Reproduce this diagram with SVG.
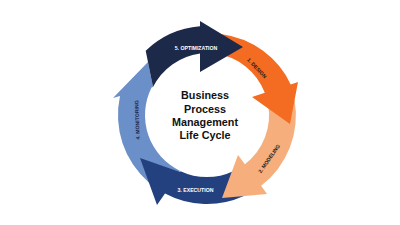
<svg xmlns="http://www.w3.org/2000/svg" width="400" height="225" viewBox="0 0 400 225">
<style>
.lbl{font-family:"Liberation Sans",Arial,sans-serif;font-weight:700;font-size:5.2px;text-anchor:middle;dominant-baseline:central}
.w{fill:#ffffff}
.d{fill:#1a1a1a}
.title{font-family:"Liberation Sans",Arial,sans-serif;font-weight:700;font-size:10.8px;fill:#111111;text-anchor:middle}
</style>
<rect width="400" height="225" fill="#ffffff"/>
<g id="step4-monitoring">
<path fill="#6b8fc8" d="M180.6,171.2 L148.8,182.4 A89,89 0 0 1 120,96.1 L113,98 L148,62 L153,87 L151.55,87.4 A62,62 0 0 0 180.6,171.2 Z"/>
<text class="lbl" fill="#1f2a44" transform="translate(137,120) rotate(-92)">4. MONITORING</text>
</g>
<g id="step3-execution">
<path fill="#24417f" d="M233.2,171.2 L243.8,196.1 A89,89 0 0 1 165,193.6 L157,205 L140,158 L180,172 L180.6,171.2 A62,62 0 0 0 233.2,171.2 Z"/>
<text class="lbl w" x="195.5" y="190">3. EXECUTION</text>
</g>
<g id="step2-modeling">
<path fill="#f6ae7c" d="M268.1,104.2 L294.6,99.9 A89,89 0 0 1 261.1,185.8 L267,194 L222,198 L238,155 L244.9,164.2 A62,62 0 0 0 268.1,104.2 Z"/>
<text class="lbl d" transform="translate(269,158.5) rotate(-55)">2. MODELING</text>
</g>
<g id="step1-design">
<path fill="#f36c21" d="M215.6,53.6 L222,34.3 A89,89 0 0 1 290.7,84.4 L298,82 L290,124 L252,97 L264.8,92.8 A62,62 0 0 0 215.6,53.6 Z"/>
<text class="lbl d" transform="translate(257,68) rotate(47)">1. DESIGN</text>
</g>
<g id="step5-optimization">
<path fill="#1c2948" d="M153,87 L145.7,50.7 A89,89 0 0 1 200,26.3 L200,21 L243,47 L200,72 L200,53.4 A62,62 0 0 0 153,87 Z"/>
<text class="lbl w" x="196" y="48">5. OPTIMIZATION</text>
</g>
<g id="connectors"></g>
<g id="center-title">
<text class="title" x="205" y="99.3">Business</text>
<text class="title" x="205" y="112.7">Process</text>
<text class="title" x="205" y="126">Management</text>
<text class="title" x="205" y="139.3">Life Cycle</text>
</g>
</svg>
